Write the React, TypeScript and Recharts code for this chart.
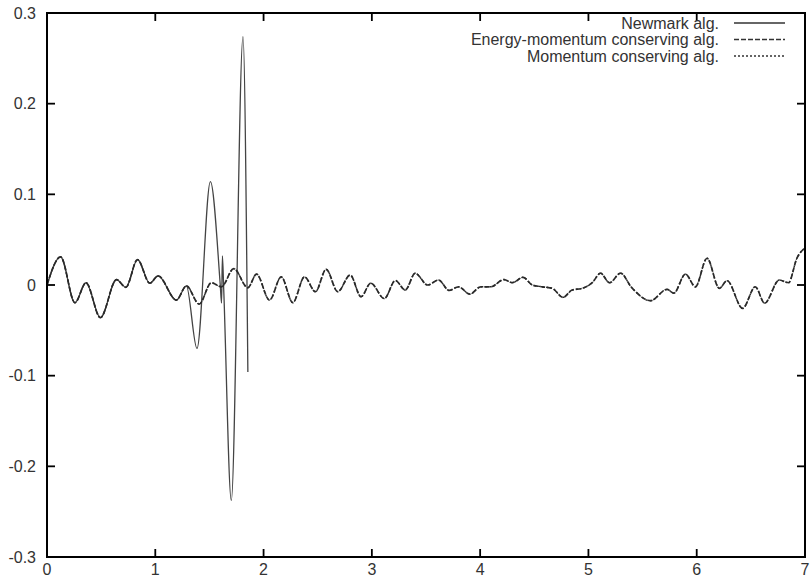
import { LineChart, Line, XAxis, YAxis } from "recharts";

// values (time, displacement)
const conservingTime = [
  0, 0.126, 0.258, 0.36, 0.493, 0.642, 0.728, 0.836, 0.949, 1.026, 1.195, 1.287,
  1.405, 1.518, 1.61, 1.725, 1.855, 1.935, 2.055, 2.163, 2.27, 2.378, 2.479,
  2.578, 2.685, 2.8, 2.9, 2.99, 3.115, 3.217, 3.309, 3.4, 3.515, 3.616, 3.714,
  3.8, 3.905, 4.006, 4.098, 4.22, 4.298, 4.396, 4.482, 4.574, 4.666, 4.765,
  4.85, 4.943, 5.035, 5.112, 5.195, 5.297, 5.398, 5.573, 5.726, 5.788, 5.896,
  5.988, 6.095, 6.209, 6.28, 6.424, 6.541, 6.627, 6.762, 6.848, 6.925, 7.0,
];
const energyMomentumValues = [
  0, 0.031, -0.0195, 0.0025, -0.036, 0.006, -0.0026, 0.028, 0.002, 0.01, -0.0166,
  -0.001, -0.021, 0.0025, -0.002, 0.018, -0.003, 0.012, -0.0166, 0.009, -0.0195,
  0.009, -0.0074, 0.0173, -0.0074, 0.011, -0.013, 0.002, -0.015, 0.005, -0.0055,
  0.013, 0.0, 0.0055, -0.006, -0.002, -0.01, -0.002, -0.002, 0.006, 0.0026,
  0.0085, 0.0, -0.002, -0.0037, -0.0136, -0.0055, -0.0037, 0.0025, 0.013, 0.0025,
  0.013, -0.0026, -0.0173, -0.0048, -0.009, 0.012, -0.002, 0.0295, -0.0037,
  0.0048, -0.0258, -0.002, -0.02, 0.0055, 0.0025, 0.0295, 0.041,
];
// the momentum conserving result lies on top of the energy-momentum one
const momentumValues = [...energyMomentumValues];

const newmarkTime = [
  0, 0.126, 0.258, 0.36, 0.493, 0.642, 0.728, 0.836, 0.949, 1.026, 1.195, 1.287,
  1.385, 1.509, 1.6, 1.612, 1.62, 1.632, 1.702, 1.81, 1.855,
];
const newmarkValues = [
  0, 0.031, -0.0195, 0.0025, -0.036, 0.006, -0.0026, 0.028, 0.002, 0.01, -0.0166,
  -0.001, -0.07, 0.114, 0.0, -0.02, 0.032, -0.005, -0.2376, 0.274, -0.096,
];

const xTicks = [0, 1, 2, 3, 4, 5, 6, 7];
const yTicks = [-0.3, -0.2, -0.1, 0, 0.1, 0.2, 0.3];
const yTickLabels = ["-0.3", "-0.2", "-0.1", "0", "0.1", "0.2", "0.3"];

const legendItems = [
  { label: "Newmark alg.", dash: undefined },
  { label: "Energy-momentum conserving alg.", dash: "5 2" },
  { label: "Momentum conserving alg.", dash: "2 2" },
];

const toPoints = (ts: number[], vs: number[]) => ts.map((t, i) => ({ t, v: vs[i] }));

const newmarkData = toPoints(newmarkTime, newmarkValues);
const energyData = toPoints(conservingTime, energyMomentumValues);
const momentumData = toPoints(conservingTime, momentumValues);

const FONT = "'Liberation Sans', Arial, Helvetica, sans-serif";
const INK = "#000";
const TICK_LEN = 8;
const axisLine = { stroke: INK, strokeWidth: 2 };

// gnuplot style: tick marks point into the plot
const BottomTick = (props: any) => {
  const { x, y, payload } = props;
  return (
    <g>
      <line x1={x} x2={x} y1={y} y2={y - TICK_LEN} stroke={INK} strokeWidth={1.8} />
      <text x={x} y={y + 18} textAnchor="middle" fontSize={16} fill="#333" fontFamily={FONT}>
        {payload.value}
      </text>
    </g>
  );
};
const TopTick = (props: any) => {
  const { x, y } = props;
  return <line x1={x} x2={x} y1={y} y2={y + TICK_LEN} stroke={INK} strokeWidth={1.8} />;
};
const LeftTick = (props: any) => {
  const { x, y, payload } = props;
  const label = yTickLabels[yTicks.indexOf(payload.value)] ?? String(payload.value);
  return (
    <g>
      <line x1={x} x2={x + TICK_LEN} y1={y} y2={y} stroke={INK} strokeWidth={1.8} />
      <text x={x - 11} y={y} dy="0.35em" textAnchor="end" fontSize={16} fill="#333" fontFamily={FONT}>
        {label}
      </text>
    </g>
  );
};
const RightTick = (props: any) => {
  const { x, y } = props;
  return <line x1={x} x2={x - TICK_LEN} y1={y} y2={y} stroke={INK} strokeWidth={1.8} />;
};

export default function App() {
  return (
    <div style={{ position: "absolute", left: 0, top: 0, width: 810, height: 583, background: "#fff", fontFamily: FONT }}>
      <LineChart width={810} height={583} data={energyData} margin={{ top: 12, right: 4, bottom: 0, left: 0 }}>
        <XAxis
          dataKey="t"
          type="number"
          domain={[0, 7]}
          ticks={xTicks}
          allowDataOverflow
          height={26}
          tickSize={0}
          tickMargin={0}
          tickLine={false}
          tick={BottomTick}
          axisLine={axisLine}
        />
        <XAxis
          xAxisId="top"
          orientation="top"
          dataKey="t"
          type="number"
          domain={[0, 7]}
          ticks={xTicks}
          allowDataOverflow
          height={1}
          tickSize={0}
          tickMargin={0}
          tickLine={false}
          tick={TopTick}
          axisLine={axisLine}
        />
        <YAxis
          type="number"
          domain={[-0.3, 0.3]}
          ticks={yTicks}
          allowDataOverflow
          width={47}
          tickSize={0}
          tickMargin={0}
          tickLine={false}
          tick={LeftTick}
          axisLine={axisLine}
        />
        <YAxis
          yAxisId="right"
          orientation="right"
          type="number"
          domain={[-0.3, 0.3]}
          ticks={yTicks}
          allowDataOverflow
          width={1}
          tickSize={0}
          tickMargin={0}
          tickLine={false}
          tick={RightTick}
          axisLine={axisLine}
        />
        <Line
          data={newmarkData}
          dataKey="v"
          type="monotone"
          stroke="#444"
          strokeWidth={1.3}
          dot={false}
          isAnimationActive={false}
        />
        <Line
          data={energyData}
          dataKey="v"
          type="monotone"
          stroke="#2a2a2a"
          strokeWidth={1.7}
          strokeDasharray="5 2"
          dot={false}
          isAnimationActive={false}
        />
        <Line
          data={momentumData}
          dataKey="v"
          type="monotone"
          stroke="#2a2a2a"
          strokeWidth={1.4}
          strokeDasharray="2 2"
          dot={false}
          isAnimationActive={false}
        />
      </LineChart>
      <svg width={810} height={583} style={{ position: "absolute", left: 0, top: 0, pointerEvents: "none" }}>
        {/* plot frame, same box as the axes */}
        <rect x={47} y={13} width={758} height={544} fill="none" stroke={INK} strokeWidth={2} />
        {legendItems.map((item, i) => {
          const y = 23 + i * 16.5;
          return (
            <g key={item.label}>
              <text x={719} y={y} dy="0.35em" textAnchor="end" fontSize={16} fill="#333" fontFamily={FONT}>
                {item.label}
              </text>
              <line x1={734} x2={785} y1={y} y2={y} stroke="#333" strokeWidth={1.4} strokeDasharray={item.dash} />
            </g>
          );
        })}
      </svg>
    </div>
  );
}
